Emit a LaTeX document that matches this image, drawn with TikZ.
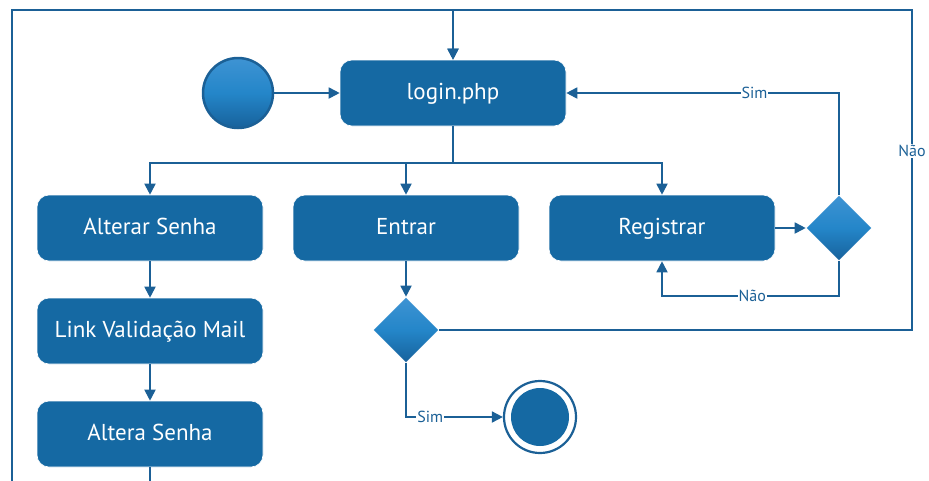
\documentclass[tikz,border=0pt]{standalone}
\usepackage{fontspec}
\setmainfont{PT Sans}
\usetikzlibrary{shapes.geometric,arrows.meta}
\definecolor{boxblue}{HTML}{1569A3}
\definecolor{lineblue}{HTML}{1B6096}
\definecolor{gtop}{HTML}{3E93D3}
\definecolor{gmid}{HTML}{2486C9}
\definecolor{gbot}{HTML}{17619B}
\tikzset{
  actbox/.style={rectangle, rounded corners=12pt, fill=boxblue, draw=white, line width=0.6pt,
    minimum width=226pt, minimum height=66pt, text=white, font=\fontsize{23}{26}\selectfont,
    text height=15pt, text depth=2pt},
  decis/.style={diamond, aspect=1, minimum width=66pt, minimum height=66pt, inner sep=0pt,
    top color=gtop, bottom color=gbot, middle color=gmid, draw=white, line width=0.6pt},
  conn/.style={draw=lineblue, line width=1.8pt},
  arr/.style={conn, -{Triangle[length=11pt,width=11pt]}},
  lbl/.style={fill=white, inner sep=1pt, text=lineblue, font=\fontsize{16}{18}\selectfont}
}
\begin{document}
\begin{tikzpicture}[x=1pt,y=-1pt]
\useasboundingbox (0,0) rectangle (929,480);
\clip (0,0) rectangle (929,480);
% nodes
\node[circle, minimum size=70pt, inner sep=0pt, top color=gtop, bottom color=gbot, middle color=gmid,
  draw=lineblue, line width=2.5pt] (start) at (238,93) {};
\node[actbox] (login) at (453,93) {login.php};
\node[actbox] (alt) at (150,228) {Alterar Senha};
\node[actbox] (ent) at (406,228) {Entrar};
\node[actbox] (reg) at (662,228) {Registrar};
\node[actbox] (link) at (150,331) {Link Validação Mail};
\node[actbox] (altera) at (150,434) {Altera Senha};
\node[decis] (d1) at (839,228) {};
\node[decis] (d2) at (406,330) {};
\node[circle, minimum size=72pt, inner sep=0pt, draw=lineblue, line width=2.2pt, fill=white] (endout) at (540,417) {};
\node[circle, minimum size=58pt, inner sep=0pt, fill=boxblue] (endin) at (endout) {};
% coordinates
\coordinate (sp) at (453,163);
\coordinate (tr) at (912,10);
\coordinate (tl) at (12,10);
\coordinate (bl) at (12,495);
\coordinate (bm) at (150,495);
% connectors
\draw[arr] (start) -- (login);
\draw[conn] (login.south) -- (sp);
\draw[arr] (sp) -| (alt.north);
\draw[arr] (sp) -| (reg.north);
\draw[arr] (ent.north |- sp) -- (ent.north);
\draw[arr] (alt) -- (link);
\draw[arr] (link) -- (altera);
\draw[arr] (altera.south) -- (bm) -- (bl) -- (tl) -| (login.north);
\draw[arr] (reg) -- (d1);
\draw[arr] (d1.north) |- node[lbl, pos=0.655] {Sim} (login.east);
\draw[arr] (d1.south) -- ++(0,35) -| node[lbl, pos=0.245] {Não} (reg.south);
\draw[arr] (ent) -- (d2);
\draw[arr] (d2.east) -| node[lbl, pos=0.78] {Não} (tr) -| (login.north);
\draw[arr] (d2.south) |- node[lbl, pos=0.625] {Sim} (endout.west);
\end{tikzpicture}
\end{document}
